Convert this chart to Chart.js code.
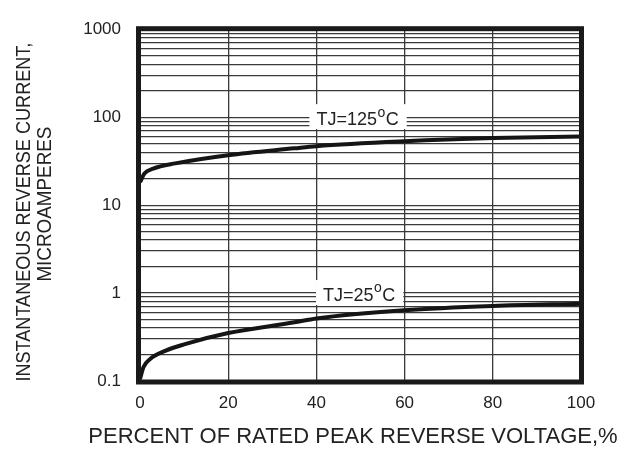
<!DOCTYPE html>
<html>
<head>
<meta charset="utf-8">
<script src="https://cdn.jsdelivr.net/npm/chart.js@4"></script>
<style>
  html, body { margin: 0; padding: 0; background: #ffffff; }
  #wrap { width: 635px; height: 450px; position: relative; }
</style>
</head>
<body>
<div id="wrap"><canvas id="c"></canvas></div>
<script>
// ---- Data ----
const xPercent125 = [0, 1, 3, 8, 20, 35, 40, 60, 80, 100];
const iR125       = [18.2, 22.9, 26.0, 29.8, 36.9, 44.2, 46.8, 53.2, 57.8, 60.4];
const xPercent25  = [0, 0.8, 2.3, 5.7, 10, 20, 35, 40, 60, 80, 100];
const iR25        = [0.105, 0.144, 0.178, 0.22, 0.261, 0.351, 0.465, 0.515, 0.638, 0.713, 0.757];

const xTickLabels = ['0', '20', '40', '60', '80', '100'];
const xTickValues = [0, 20, 40, 60, 80, 100];
const yTickLabels = ['0.1', '1', '10', '100', '1000'];
const yTickValues = [0.1, 1, 10, 100, 1000];

const curveLabels = ['TJ=125', 'TJ=25'];
const curveLabelX = [40, 41.5];
const curveLabelY = [100, 1];

const xTitle = 'PERCENT OF RATED PEAK REVERSE VOLTAGE,%';
const yTitle = ['INSTANTANEOUS REVERSE CURRENT,', 'MICROAMPERES'];

const toPts = (xs, ys) => xs.map((x, i) => ({ x: x, y: ys[i] }));

const TEXT = '#222222';
const FAMILY = "'Liberation Sans', Arial, Helvetica, sans-serif";

// Log grid: 1..9 multiples in each decade
function logGridTicks(maxV) {
  const t = [];
  for (let d = 0; d < yTickValues.length - 1; d++) {
    const base = yTickValues[d];
    for (let m = 1; m <= 9; m++) t.push({ value: +(base * m).toPrecision(6) });
  }
  t.push({ value: maxV });
  return t;
}

const framePlugin = {
  id: 'frame',
  afterDraw(chart) {
    const { ctx, chartArea: a } = chart;
    ctx.save();
    ctx.strokeStyle = '#1a1a1a';
    ctx.lineWidth = 5;
    ctx.strokeRect(a.left - 1.5, a.top - 0.5, a.right - a.left + 2, a.bottom - a.top + 1.5);
    ctx.restore();
  }
};

// Axis titles drawn as real canvas text (condensed like the reference)
const axisTitlePlugin = {
  id: 'axisTitles',
  afterDraw(chart) {
    const { ctx, chartArea: a } = chart;
    ctx.save();
    ctx.fillStyle = TEXT;
    ctx.textAlign = 'center';
    ctx.textBaseline = 'middle';
    ctx.font = '22px ' + FAMILY;
    ctx.fillText(xTitle, 353, 437, 532);
    const mid = (a.top + a.bottom) / 2;
    ctx.font = '21px ' + FAMILY;
    const yLines = [{ x: 24, y: mid + 7, w: 339 }, { x: 45, y: mid - 1, w: 155 }];
    yTitle.forEach((line, i) => {
      ctx.save();
      ctx.translate(yLines[i].x, yLines[i].y);
      ctx.rotate(-Math.PI / 2);
      ctx.fillText(line, 0, 0, yLines[i].w);
      ctx.restore();
    });
    ctx.restore();
  }
};

const curveLabelPlugin = {
  id: 'curveLabels',
  afterDatasetsDraw(chart) {
    const { ctx } = chart;
    const xs = chart.scales.x, ys = chart.scales.y;
    ctx.save();
    curveLabels.forEach((lab, i) => {
      const px = xs.getPixelForValue(curveLabelX[i]);
      const py = ys.getPixelForValue(curveLabelY[i]);
      const mainFont = '18px ' + FAMILY;
      const supFont = '14px ' + FAMILY;
      ctx.font = mainFont;
      const w1 = ctx.measureText(lab).width;
      ctx.font = supFont;
      const w2 = ctx.measureText('o').width;
      ctx.font = mainFont;
      const w3 = ctx.measureText('C').width;
      const total = w1 + w2 + 1 + w3;
      ctx.fillStyle = '#ffffff';
      ctx.fillRect(px - 7, py - 13, total + 15, 25);
      ctx.fillStyle = TEXT;
      ctx.textBaseline = 'middle';
      ctx.textAlign = 'left';
      ctx.font = mainFont;
      ctx.fillText(lab, px, py + 2.5);
      ctx.font = supFont;
      ctx.fillText('o', px + w1 + 0.5, py - 4.5);
      ctx.font = mainFont;
      ctx.fillText('C', px + w1 + w2 + 1, py + 2.5);
    });
    ctx.restore();
  }
};

new Chart(document.getElementById('c'), {
  type: 'scatter',
  data: {
    datasets: [
      {
        label: 'TJ=125°C',
        data: toPts(xPercent125, iR125),
        showLine: true,
        borderColor: '#151515',
        borderWidth: 4,
        pointRadius: 0,
        cubicInterpolationMode: 'monotone',
        fill: false
      },
      {
        label: 'TJ=25°C',
        data: toPts(xPercent25, iR25),
        showLine: true,
        borderColor: '#151515',
        borderWidth: 4,
        pointRadius: 0,
        cubicInterpolationMode: 'monotone',
        fill: false
      }
    ]
  },
  options: {
    responsive: true,
    maintainAspectRatio: false,
    animation: false,
    layout: { padding: { top: 20, right: 54, bottom: 0, left: 0 } },
    plugins: {
      legend: { display: false },
      tooltip: { enabled: false }
    },
    scales: {
      x: {
        type: 'linear',
        min: 0,
        max: 100,
        afterFit(scale) { scale.height = 69; },
        afterBuildTicks(scale) { scale.ticks = xTickValues.map(v => ({ value: v })); },
        ticks: {
          autoSkip: false,
          maxRotation: 0,
          padding: 12,
          color: TEXT,
          font: { family: FAMILY, size: 17 },
          callback: (v) => {
            const k = xTickValues.indexOf(v);
            return k >= 0 ? xTickLabels[k] : '';
          }
        },
        grid: { color: '#3a3a3a', lineWidth: 1.3, drawTicks: false },
        border: { display: false },
        title: { display: false }
      },
      y: {
        type: 'logarithmic',
        min: 0.1,
        max: 1000,
        afterFit(scale) { scale.width = 140; },
        afterBuildTicks(scale) { scale.ticks = logGridTicks(1000); },
        ticks: {
          autoSkip: false,
          padding: 19,
          color: TEXT,
          font: { family: FAMILY, size: 17 },
          callback: (v) => {
            const k = yTickValues.findIndex(t => Math.abs(t - v) < t * 1e-6);
            return k >= 0 ? yTickLabels[k] : '';
          }
        },
        grid: { color: '#3a3a3a', lineWidth: 1.2, drawTicks: false },
        border: { display: false },
        title: { display: false }
      }
    }
  },
  plugins: [curveLabelPlugin, framePlugin, axisTitlePlugin]
});
</script>
</body>
</html>
